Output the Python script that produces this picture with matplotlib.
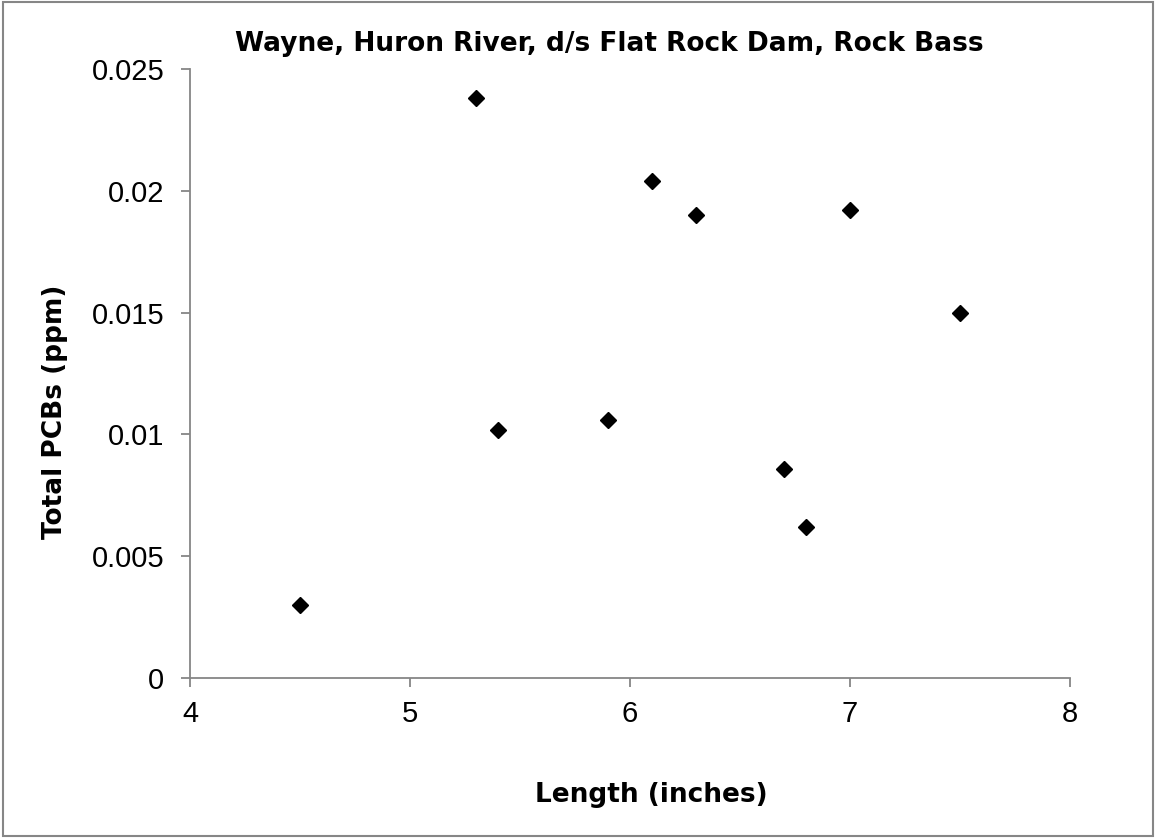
import matplotlib.pyplot as plt
from matplotlib.patches import Rectangle

length_in = [4.5, 5.3, 5.4, 5.9, 6.1, 6.3, 6.7, 6.8, 7.0, 7.5]
pcb_ppm = [0.003, 0.0238, 0.0102, 0.0106, 0.0204, 0.019, 0.0086, 0.0062, 0.0192, 0.015]
x_ticks = [4, 5, 6, 7, 8]
y_ticks = [0, 0.005, 0.01, 0.015, 0.02, 0.025]
y_tick_labels = ["0", "0.005", "0.01", "0.015", "0.02", "0.025"]

W, H = 1156, 838
fig = plt.figure(figsize=(W / 100, H / 100), dpi=100)
ax = fig.add_axes([190 / W, (H - 678) / H, 880 / W, 609 / H])

ax.plot(length_in, pcb_ppm, linestyle="none", marker="D", markersize=8,
        color="black", clip_on=False)

ax.set_xlim(4, 8)
ax.set_ylim(0, 0.025)
ax.set_xticks(x_ticks)
ax.set_yticks(y_ticks)
ax.set_xticklabels([str(t) for t in x_ticks])
ax.set_yticklabels(y_tick_labels)

for side in ["top", "right"]:
    ax.spines[side].set_visible(False)
for side in ["left", "bottom"]:
    ax.spines[side].set_color("#868686")
    ax.spines[side].set_linewidth(1.3)

ax.tick_params(direction="out", length=6.5, width=1.3, color="#868686",
               labelsize=21)
ax.tick_params(axis="x", pad=9)
ax.tick_params(axis="y", pad=12)
for lab in ax.get_xticklabels() + ax.get_yticklabels():
    lab.set_fontfamily("Liberation Sans")

bold = dict(fontsize=19, fontweight="bold", family="DejaVu Sans")
fig.text(609 / W, (H - 51) / H, "Wayne, Huron River, d/s Flat Rock Dam, Rock Bass",
         ha="center", va="baseline", **bold)
fig.text(651 / W, (H - 802) / H, "Length (inches)",
         ha="center", va="baseline", **bold)
fig.text(62 / W, (H - 412) / H, "Total PCBs (ppm)", rotation=90,
         rotation_mode="anchor", ha="center", va="baseline", **bold)

fig.patches.append(Rectangle((3 / W, 2 / H), 1150 / W, 834 / H,
                             transform=fig.transFigure, fill=False,
                             edgecolor="#868686", linewidth=1.5))

plt.savefig("out.png", dpi=100)
